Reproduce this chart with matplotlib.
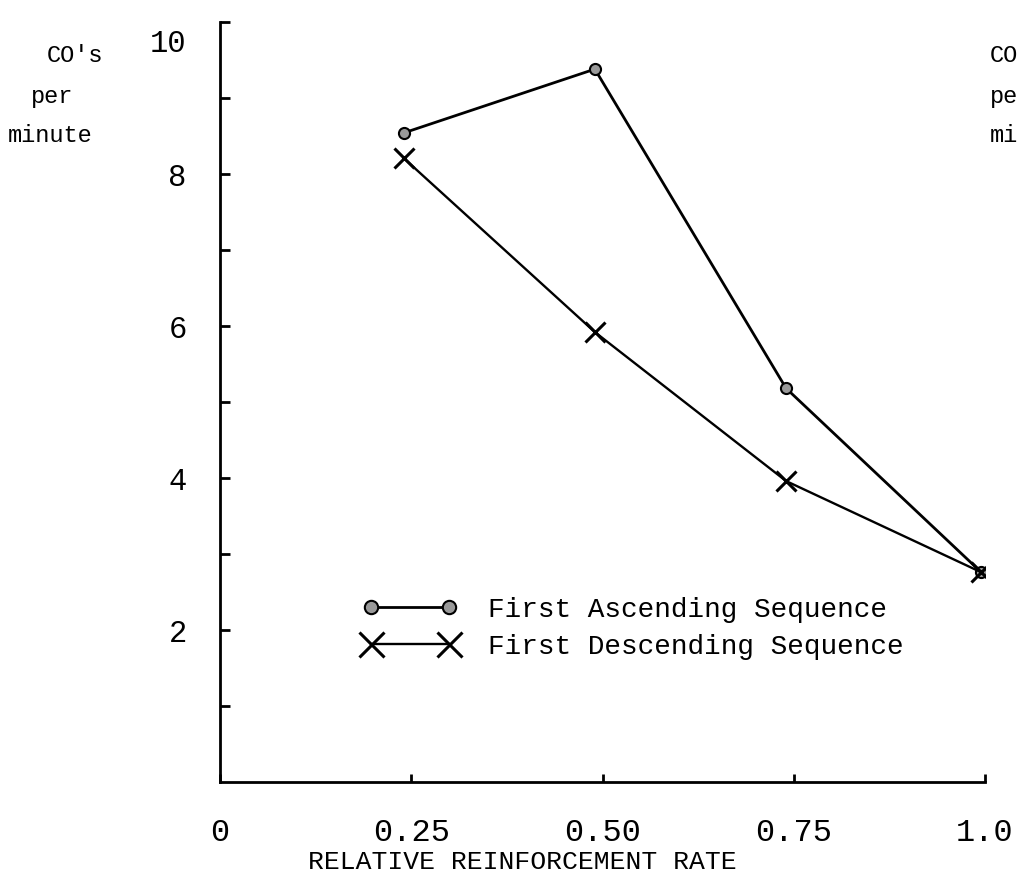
import matplotlib
matplotlib.use('Agg')
import matplotlib.pyplot as plt
import matplotlib.transforms as mtransforms

FONT = 'Liberation Mono'

rate_asc = [0.24, 0.49, 0.74, 0.995]
cos_asc = [8.54, 9.38, 5.18, 2.76]
rate_desc = [0.24, 0.49, 0.74, 0.995]
cos_desc = [8.21, 5.92, 3.96, 2.76]

x_ticks = [0, 0.25, 0.5, 0.75, 1.0]
x_tick_labels = ['0', '0.25', '0.50', '0.75', '1.0']
y_major = [2, 4, 6, 8, 10]
y_minor = [1, 3, 5, 7, 9]

plt.rcParams['font.family'] = [FONT, 'DejaVu Sans Mono']

fig = plt.figure(figsize=(10.24, 8.76), dpi=100)
ax = fig.add_axes([220 / 1024, 1 - 782 / 876, 765 / 1024, 760 / 876])

ax.plot(rate_asc, cos_asc, color='black', lw=2, marker='o', ms=8,
        mfc='#999999', mec='black', mew=1.5, label='First Ascending Sequence')
ax.plot(rate_desc, cos_desc, color='black', lw=1.7, marker='x', ms=15,
        mew=2.2, label='First Descending Sequence', zorder=3)

ax.set_xlim(0, 1.0)
ax.set_ylim(0, 10)
for s in ['top', 'right']:
    ax.spines[s].set_visible(False)
ax.spines['left'].set_linewidth(2)
ax.spines['bottom'].set_linewidth(2)

ax.set_xticks(x_ticks)
ax.set_xticklabels(x_tick_labels, fontsize=23)
ax.set_yticks(y_major)
ax.set_yticklabels([str(v) for v in y_major], fontsize=22)
ax.set_yticks(y_minor, minor=True)
ax.tick_params(axis='y', which='both', direction='in', length=7, width=2)
ax.tick_params(axis='y', which='major', pad=24)
ax.tick_params(axis='x', direction='in', length=6, width=2, pad=26)

# the "10" was typed a little below its tick
top = ax.get_yticklabels()[-1]
top.set_transform(top.get_transform() +
                  mtransforms.ScaledTranslation(0, -18 / 100, fig.dpi_scale_trans))

ax.set_xlabel('RELATIVE REINFORCEMENT RATE', fontsize=19)
ax.xaxis.set_label_coords((522 - 220) / 765, -(862 - 782) / 760)
ax.xaxis.label.set_va('center')

# y label typed at the top left, repeated (cut off) at the right edge
fig.text(75 / 1024, 1 - 55 / 876, "CO's", fontsize=17, ha='center', va='center')
fig.text(52 / 1024, 1 - 97 / 876, 'per', fontsize=17, ha='center', va='center')
fig.text(50 / 1024, 1 - 135 / 876, 'minute', fontsize=17, ha='center', va='center')
fig.text(990 / 1024, 1 - 55 / 876, 'CO', fontsize=17, ha='left', va='center')
fig.text(990 / 1024, 1 - 97 / 876, 'pe', fontsize=17, ha='left', va='center')
fig.text(990 / 1024, 1 - 135 / 876, 'mi', fontsize=17, ha='left', va='center')

leg = ax.legend(loc='upper left', bbox_to_anchor=(118 / 765, 1 - 550 / 760), frameon=False,
                fontsize=20, numpoints=2, handlelength=3.4, handletextpad=1.1,
                labelspacing=0.4, markerscale=1.2)

fig.savefig('out.png', dpi=100, facecolor='white')
